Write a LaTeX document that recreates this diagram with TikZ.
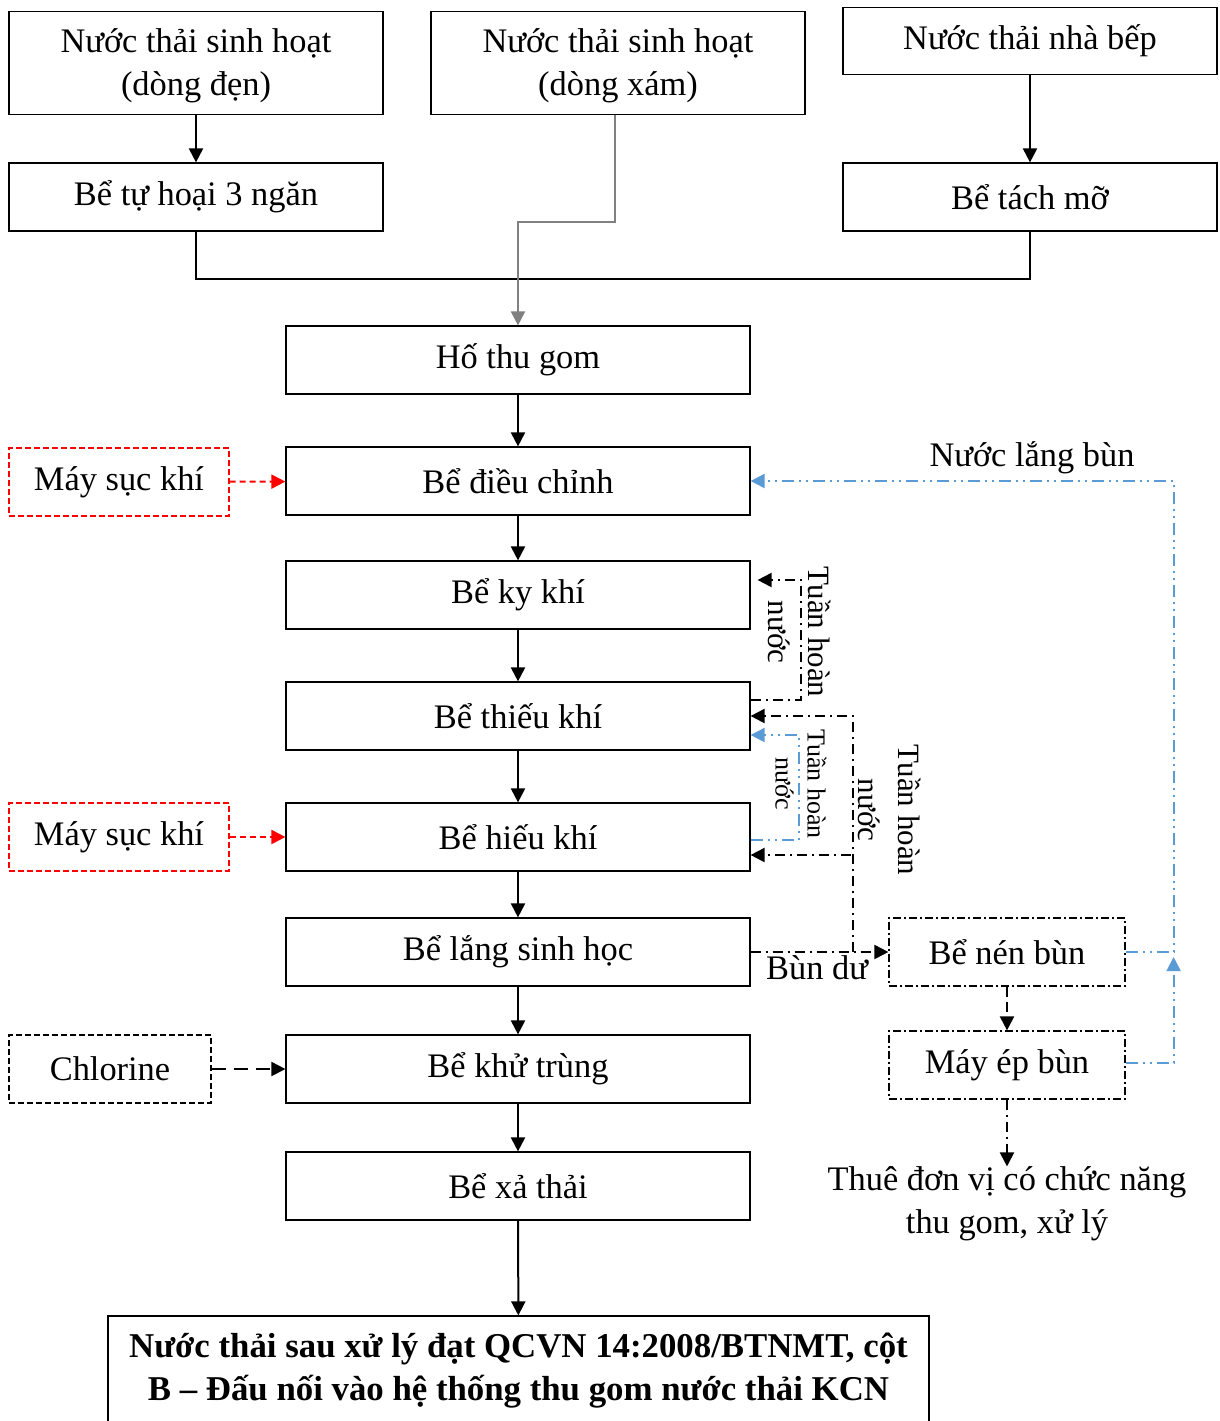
\documentclass[tikz,border=0pt]{standalone}
\usepackage{fontspec}
\setmainfont{Liberation Serif}
\usetikzlibrary{arrows.meta,calc}
\definecolor{flowblue}{RGB}{91,155,213}
\definecolor{flowgray}{RGB}{128,128,128}
\begin{document}
\begin{tikzpicture}[x=0.5pt,y=-0.5pt,
  font=\fontsize{17.2}{21.5}\selectfont,
  box/.style={draw,line width=0.6pt,align=center,inner sep=0pt,minimum height=34pt},
  mainbox/.style={box,minimum width=232pt},
  topbox/.style={box,minimum width=187pt},
  sidebox/.style={box,red,dashed,dash pattern=on 3pt off 1.5pt,minimum width=110pt,text=black},
  sludgebox/.style={box,dash pattern=on 4pt off 1.5pt on 1pt off 1.5pt,minimum width=118pt},
  tip/.style={-{Triangle[length=7pt,width=7pt]}},
  arr/.style={tip,line width=1pt},
  ddash/.style={line width=1pt,dash pattern=on 5pt off 2.5pt on 1pt off 2.5pt},
  bdash/.style={flowblue,line width=1pt,dash pattern=on 6pt off 2.5pt on 1pt off 2.5pt on 1pt off 2.5pt},
  lbl/.style={align=center,inner sep=0pt},
  rlbl/.style={lbl,rotate=-90,font=\fontsize{15.5}{20}\selectfont},
  slbl/.style={lbl,rotate=-90,font=\fontsize{13}{16}\selectfont}]
\useasboundingbox (0,0) rectangle (1220,1421);

% sources (two-line boxes carry their text in a separate node)
\node[topbox,minimum height=51.5pt] (a) at (196,63) {};
\node[lbl] (atext) at (196,66) {Nước thải sinh hoạt\\(dòng đẹn)};
\node[topbox,minimum height=51.5pt] (b) at (618,63) {};
\node[lbl] (btext) at (618,66) {Nước thải sinh hoạt\\(dòng xám)};
\node[topbox,minimum height=33.5pt] (c) at (1030,41) {Nước thải nhà bếp};
\node[topbox] (d) at (196,197) {Bể tự hoại 3 ngăn};
\node[topbox] (e) at (1030,197) {Bể tách mỡ};

% main treatment line
\node[mainbox] (ho) at (518,360) {Hố thu gom};
\node[mainbox] (dieu) at (518,481) {Bể điều chỉnh};
\node[mainbox] (ky) at (518,595) {Bể ky khí};
\node[mainbox] (thieu) at (518,716) {Bể thiếu khí};
\node[mainbox] (hieu) at (518,837) {Bể hiếu khí};
\node[mainbox] (lang) at (518,952) {Bể lắng sinh học};
\node[mainbox] (khu) at (518,1069) {Bể khử trùng};
\node[mainbox] (xa) at (518,1186) {Bể xả thải};
\node[box,minimum width=410.5pt,minimum height=55pt,
  font=\fontsize{17.4}{21.5}\selectfont\bfseries] (out) at (518.5,1371)
  {Nước thải sau xử lý đạt QCVN 14:2008/BTNMT, cột\\B – Đấu nối vào hệ thống thu gom nước thải KCN};

% additives
\node[sidebox] (may1) at (119,482) {Máy sục khí};
\node[sidebox] (may2) at (119,837) {Máy sục khí};
\node[box,dashed,dash pattern=on 3pt off 1.5pt,minimum width=101pt] (chl) at (110,1069) {Chlorine};

% sludge line
\node[sludgebox] (nen) at (1007,952) {Bể nén bùn};
\node[sludgebox] (ep) at (1007,1065) {Máy ép bùn};
\node[lbl] (thue) at (1007,1204) {Thuê đơn vị có chức năng\\thu gom, xử lý};

% inflows
\draw[arr] (a) -- (d);
\draw[arr] (c) -- (e);
\draw[line width=1pt] (d.south) -- ++(0,47) -| (e.south);
\draw[arr,flowgray] ($(b.south)+(-3,0)$) -- ++(0,107) -| (ho.north);

\draw[arr] (ho) -- (dieu);
\draw[arr] (dieu) -- (ky);
\draw[arr] (ky) -- (thieu);
\draw[arr] (thieu) -- (hieu);
\draw[arr] (hieu) -- (lang);
\draw[arr] (lang) -- (khu);
\draw[arr] (khu) -- (xa);
\draw[arr] (xa) -- (out);

\draw[arr,red,dash pattern=on 3pt off 2pt] (may1) -- (dieu);
\draw[arr,red,dash pattern=on 3pt off 2pt] (may2) -- (hieu);
\draw[arr,dash pattern=on 7pt off 4pt] (chl) -- (khu);

% recirculation
\draw[ddash,tip] ($(thieu.east)+(0,-16)$) -- ++(50,0) |- ($(ky.east)+(7,-15)$);
\node[rlbl] at (800,632) {Tuần hoàn\\nước};

\draw[bdash,tip] ($(hieu.east)+(0,3)$) -- ++(48,0) |- ($(thieu.east)+(0,19)$);
\node[slbl] at (801,784) {Tuần hoàn\\nước};

\draw[ddash,tip] ($(lang.east)+(102,0)$) |- (thieu.east);
\draw[ddash,tip] ($(hieu.east)+(100,18)$) -- ($(hieu.east)+(0,18)$);
\node[rlbl] at (890,810) {Tuần hoàn\\nước};

\draw[ddash,tip] (lang.east) -- (nen.west);
\node[lbl] at (817,968) {Bùn dư};

% sludge handling
\draw[tip,line width=1pt,dash pattern=on 5pt off 2.5pt] (nen) -- (ep);
\draw[tip,line width=1pt,dash pattern=on 5pt off 2.5pt on 1pt off 2.5pt] (ep) -- (thue);
\draw[bdash,tip] (nen.east) -- ++(48,0) |- (dieu.east);
\draw[bdash,tip] ($(ep.east)+(0,-2)$) -- ++(48,0) -- ++(0,-106);
\node[lbl] at (1032,458) {Nước lắng bùn};
\end{tikzpicture}
\end{document}
